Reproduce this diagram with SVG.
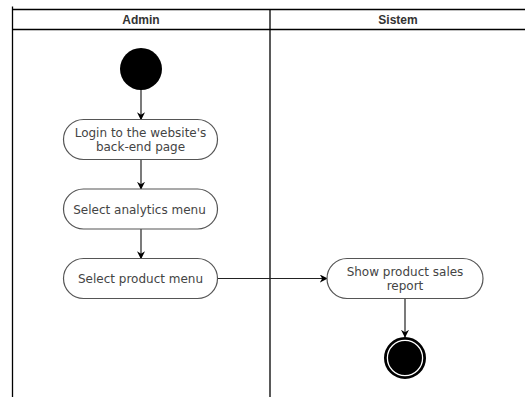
<svg xmlns="http://www.w3.org/2000/svg" width="525" height="397" viewBox="0 0 525 397">
  <style>
    .lane { fill: none; stroke: #000; stroke-width: 1.3; }
    .lane-title { font-family: "Liberation Sans", Arial, sans-serif; font-size: 12px; font-weight: bold; fill: #333; text-anchor: middle; }
    .action rect { fill: #fff; stroke: #555; stroke-width: 1.2; }
    .action text { font-family: "DejaVu Sans", Verdana, sans-serif; font-size: 12px; fill: #444; text-anchor: middle; }
    .flow { fill: none; stroke: #222; stroke-width: 1.2; marker-end: url(#arrow); }
  </style>
  <defs>
    <marker id="arrow" viewBox="0 0 10 10" refX="9" refY="5" markerWidth="8" markerHeight="8" markerUnits="userSpaceOnUse" orient="auto">
      <path d="M0,0 L10,5 L0,10 L3,5 Z" fill="#000"/>
    </marker>
  </defs>

  <rect width="525" height="397" fill="#fff"/>

  <!-- swimlanes -->
  <g id="lanes">
    <line class="lane" x1="12.5" y1="6.5" x2="12.5" y2="397"/>
    <line class="lane" x1="12.5" y1="9.5" x2="525" y2="9.5"/>
    <line class="lane" x1="12.5" y1="29.5" x2="525" y2="29.5"/>
    <line class="lane" x1="270" y1="9.5" x2="270" y2="397"/>
    <text class="lane-title" x="141" y="24">Admin</text>
    <text class="lane-title" x="398" y="24">Sistem</text>
  </g>

  <!-- connectors -->
  <g id="connectors">
    <line class="flow" x1="141" y1="90" x2="141" y2="119.5"/>
    <line class="flow" x1="141" y1="159.5" x2="141" y2="189"/>
    <line class="flow" x1="141" y1="229" x2="141" y2="258.5"/>
    <line class="flow" x1="217.5" y1="278.5" x2="327" y2="278.5"/>
    <line class="flow" x1="405" y1="298.5" x2="405" y2="337"/>
  </g>

  <!-- start -->
  <g id="start">
    <circle cx="141" cy="69" r="21" fill="#000"/>
  </g>

  <g id="login" class="action">
    <rect x="63.5" y="119.5" width="154" height="40" rx="20" ry="20"/>
    <text x="140.5" y="137">Login to the website's</text>
    <text x="140.5" y="151">back-end page</text>
  </g>

  <g id="analytics" class="action">
    <rect x="63.5" y="189" width="154" height="40" rx="20" ry="20"/>
    <text x="139.5" y="213.5">Select analytics menu</text>
  </g>

  <g id="product" class="action">
    <rect x="63.5" y="258.5" width="154" height="40" rx="20" ry="20"/>
    <text x="140.5" y="283">Select product menu</text>
  </g>

  <g id="report" class="action">
    <rect x="327" y="258.5" width="156" height="40" rx="20" ry="20"/>
    <text x="405" y="276">Show product sales</text>
    <text x="405" y="290">report</text>
  </g>

  <!-- end: black disc with a thin white ring -->
  <g id="end">
    <circle cx="405" cy="358" r="20" fill="#000" stroke="#000" stroke-width="2"/>
    <circle cx="405" cy="358" r="17.6" fill="#000" stroke="#fff" stroke-width="1.3"/>
  </g>
</svg>
